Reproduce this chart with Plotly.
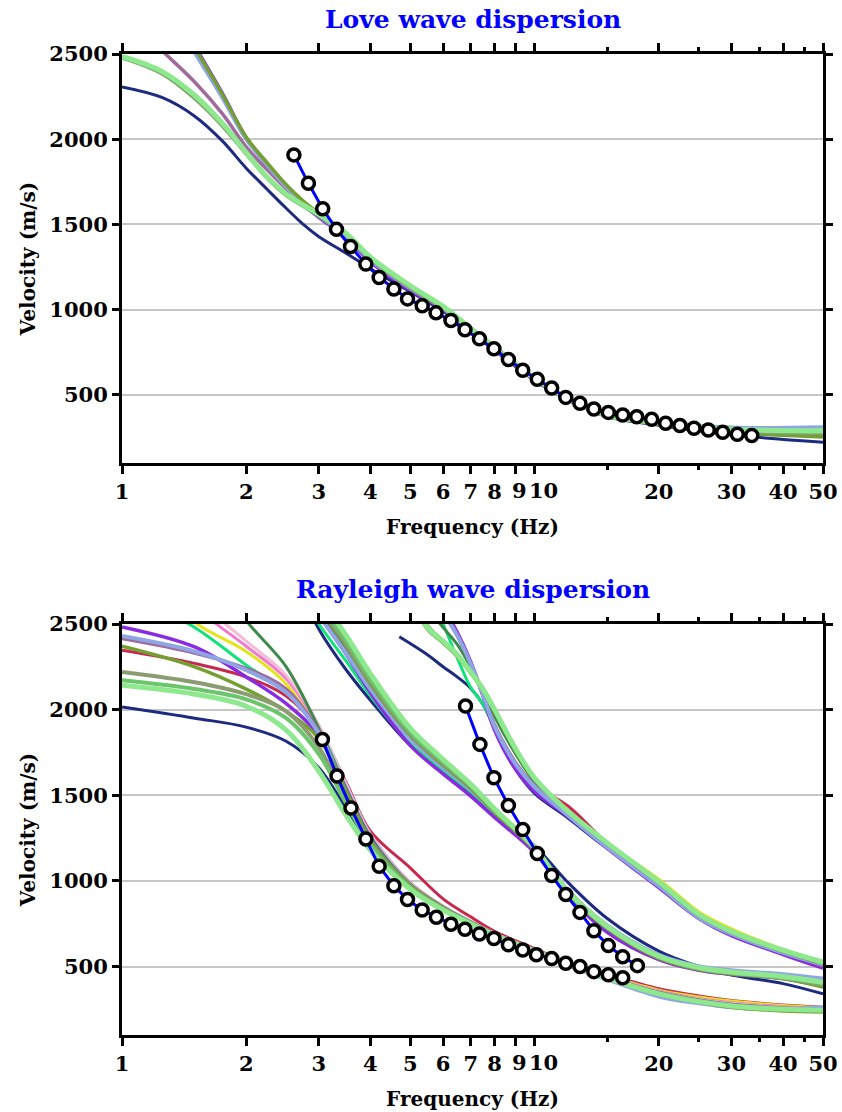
import math
import plotly.graph_objects as go
from plotly.subplots import make_subplots

# ---------------- observed dispersion picks ----------------
love_obs_freq = [2.61, 2.83, 3.065, 3.31, 3.58, 3.90, 4.20, 4.56, 4.92, 5.34, 5.77,
                 6.27, 6.78, 7.35, 7.97, 8.64, 9.36, 10.15, 11.0, 11.9, 12.88, 13.92,
                 15.09, 16.35, 17.68, 19.22, 20.78, 22.5, 24.34, 26.36, 28.57, 30.99, 33.6]
love_obs_vel = [1908, 1741, 1592, 1471, 1370, 1267, 1189, 1121, 1063, 1023, 981,
                936, 882, 829, 771, 707, 644, 592, 540, 485, 450, 417,
                397, 382, 372, 357, 333, 320, 304, 294, 281, 269, 261]

ray0_obs_freq = [3.06, 3.32, 3.59, 3.90, 4.20, 4.56, 4.92, 5.34, 5.78, 6.27, 6.78,
                 7.35, 7.97, 8.64, 9.36, 10.1, 11.0, 11.9, 12.88, 13.92, 15.09, 16.35]
ray0_obs_vel = [1825, 1612, 1425, 1245, 1085, 972, 891, 830, 787, 747, 718,
                690, 664, 627, 596, 569, 547, 519, 500, 470, 452, 434]

ray1_obs_freq = [6.80, 7.37, 7.97, 8.64, 9.36, 10.15, 11.0, 11.9, 12.88, 13.92,
                 15.09, 16.35, 17.75]
ray1_obs_vel = [2021, 1797, 1602, 1440, 1300, 1160, 1031, 920, 816, 709,
                622, 557, 505]

# ---------------- theoretical curves of the model ensemble ----------------
love_freq = [1, 1.25, 1.5, 1.75, 2, 2.25, 2.5, 2.75, 3, 3.5, 4, 5, 6, 7, 8, 10, 12, 15, 20, 30, 50]
love_curves = {
    "navy":       [2307, 2245, 2135, 1990, 1830, 1705, 1595, 1500, 1428, 1330, 1240, 1105, 990, 872, 760, 585, 472, 372, 322, 265, 222],
    "crimson":    [3250, 2860, 2525, 2255, 2005, 1855, 1728, 1632, 1560, 1440, 1300, 1130, 1010, 885, 775, 595, 480, 378, 333, 290, 268],
    "yellow":     [3300, 2880, 2540, 2265, 2010, 1858, 1730, 1633, 1558, 1436, 1295, 1125, 1008, 884, 776, 594, 478, 377, 332, 290, 270],
    "pink":       [3280, 2870, 2530, 2258, 2004, 1852, 1725, 1628, 1555, 1432, 1292, 1122, 1005, 882, 773, 592, 478, 377, 332, 291, 272],
    "lightpink":  [3270, 2865, 2528, 2256, 2003, 1851, 1724, 1627, 1554, 1431, 1291, 1121, 1004, 881, 772, 591, 477, 376, 331, 290, 271],
    "spring":     [3260, 2860, 2522, 2250, 2000, 1848, 1722, 1626, 1553, 1430, 1290, 1120, 1003, 880, 772, 592, 477, 376, 331, 289, 272],
    "forest":     [3320, 2890, 2545, 2268, 2012, 1860, 1732, 1635, 1562, 1440, 1298, 1127, 1009, 884, 774, 593, 477, 376, 330, 286, 265],
    "purple":     [3350, 2900, 2550, 2270, 2008, 1845, 1712, 1615, 1542, 1418, 1280, 1112, 1000, 876, 766, 586, 474, 374, 328, 282, 262],
    "mauve":      [2750, 2520, 2336, 2150, 1955, 1820, 1710, 1625, 1555, 1435, 1298, 1135, 1015, 888, 777, 596, 480, 378, 333, 290, 268],
    "lightblue":  [3200, 2830, 2510, 2245, 2000, 1848, 1720, 1625, 1552, 1430, 1292, 1125, 1008, 884, 775, 596, 482, 383, 340, 308, 310],
    "olive":      [3300, 2880, 2540, 2265, 2012, 1860, 1733, 1637, 1565, 1445, 1302, 1128, 1010, 884, 773, 591, 476, 374, 328, 280, 252],
    "greygreen":  [2478, 2385, 2240, 2080, 1915, 1772, 1672, 1608, 1552, 1438, 1300, 1132, 1012, 886, 776, 594, 478, 377, 332, 290, 276],
    "green2":     [2482, 2392, 2250, 2088, 1918, 1774, 1674, 1610, 1555, 1440, 1303, 1135, 1015, 888, 778, 596, 480, 378, 334, 295, 282],
    "lightgreen": [2486, 2398, 2258, 2094, 1922, 1777, 1678, 1614, 1560, 1445, 1308, 1140, 1020, 890, 780, 598, 482, 380, 336, 298, 290],
}

ray0_freq = [1, 1.5, 2, 2.5, 3, 3.5, 4, 5, 6, 7, 8, 10, 12, 15, 20, 25, 30, 40, 50]
ray0_curves = {
    "navy":       [2015, 1950, 1898, 1815, 1660, 1420, 1215, 955, 830, 750, 680, 590, 515, 440, 345, 300, 275, 255, 248],
    "crimson":    [2347, 2270, 2190, 2080, 1880, 1570, 1290, 1075, 895, 790, 705, 605, 525, 455, 370, 328, 302, 275, 262],
    "yellow":     [2900, 2510, 2340, 2150, 1870, 1550, 1270, 985, 850, 762, 692, 598, 518, 445, 362, 322, 298, 272, 258],
    "pink":       [3000, 2600, 2370, 2180, 1900, 1560, 1275, 990, 852, 764, 694, 598, 518, 442, 355, 312, 288, 265, 255],
    "lightpink":  [3050, 2650, 2400, 2200, 1910, 1560, 1270, 985, 850, 762, 692, 596, 516, 440, 352, 308, 284, 262, 254],
    "spring":     [2700, 2480, 2260, 2100, 1880, 1540, 1260, 980, 848, 760, 690, 596, 515, 438, 350, 305, 280, 258, 252],
    "forest":     [3400, 2950, 2520, 2250, 1890, 1530, 1250, 975, 845, 758, 688, 594, 514, 436, 345, 300, 274, 254, 248],
    "purple":     [2483, 2366, 2191, 2035, 1850, 1530, 1250, 975, 845, 758, 686, 590, 508, 428, 336, 290, 263, 248, 245],
    "mauve":      [2415, 2330, 2240, 2120, 1870, 1520, 1240, 970, 842, 756, 688, 594, 515, 438, 348, 303, 278, 258, 252],
    "lightblue":  [2430, 2340, 2230, 2100, 1860, 1510, 1230, 965, 838, 755, 686, 592, 510, 425, 325, 285, 262, 250, 262],
    "olive":      [2370, 2250, 2120, 1990, 1830, 1520, 1240, 975, 845, 758, 688, 594, 512, 430, 338, 292, 262, 240, 234],
    "greygreen":  [2220, 2160, 2090, 1990, 1780, 1470, 1220, 965, 840, 755, 686, 594, 514, 434, 343, 298, 272, 252, 246],
    "green2":     [2171, 2120, 2060, 1950, 1740, 1450, 1210, 960, 835, 752, 684, 592, 512, 432, 342, 297, 272, 252, 246],
    "lightgreen": [2142, 2090, 2020, 1880, 1640, 1380, 1180, 950, 830, 750, 682, 590, 512, 432, 340, 295, 270, 250, 245],
}

ray1_freq = [2.8, 3, 3.5, 4, 5, 6, 7, 8, 10, 12, 15, 20, 25, 30, 40, 50]
ray1_curves = {
    "navy":       [2620, 2470, 2230, 2055, 1790, 1640, 1515, 1390, 1205, 995, 780, 590, 500, 450, 400, 340],
    "crimson":    [2720, 2580, 2350, 2140, 1850, 1690, 1555, 1420, 1195, 950, 740, 565, 495, 468, 438, 398],
    "yellow":     [2700, 2570, 2340, 2130, 1840, 1675, 1545, 1410, 1190, 945, 735, 560, 492, 466, 440, 402],
    "pink":       [2710, 2575, 2345, 2135, 1842, 1672, 1540, 1405, 1192, 946, 736, 560, 492, 466, 438, 400],
    "lightpink":  [2705, 2570, 2342, 2132, 1840, 1670, 1538, 1403, 1190, 944, 734, 558, 490, 465, 437, 399],
    "spring":     [2620, 2500, 2280, 2080, 1800, 1645, 1520, 1392, 1186, 942, 732, 556, 490, 464, 436, 398],
    "forest":     [2730, 2590, 2355, 2140, 1845, 1672, 1538, 1402, 1185, 935, 728, 552, 486, 460, 432, 392],
    "purple":     [2700, 2560, 2320, 2100, 1790, 1625, 1495, 1370, 1165, 920, 700, 540, 478, 455, 430, 385],
    "mauve":      [2700, 2560, 2330, 2120, 1830, 1665, 1535, 1405, 1192, 946, 738, 562, 494, 468, 440, 402],
    "lightblue":  [2690, 2555, 2325, 2120, 1830, 1662, 1532, 1402, 1192, 948, 740, 568, 502, 478, 455, 430],
    "olive":      [2740, 2600, 2370, 2150, 1850, 1675, 1540, 1400, 1180, 930, 722, 548, 482, 456, 428, 380],
    "greygreen":  [2740, 2610, 2380, 2165, 1860, 1686, 1550, 1410, 1188, 938, 730, 555, 488, 462, 434, 392],
    "green2":     [2780, 2630, 2400, 2180, 1870, 1695, 1555, 1412, 1190, 940, 732, 556, 490, 464, 436, 400],
    "lightgreen": [2820, 2670, 2430, 2210, 1890, 1710, 1565, 1420, 1194, 942, 734, 560, 494, 468, 442, 408],
}

ray2_freq = [4.7, 5.5, 6, 6.5, 7, 7.5, 8, 9, 10, 12, 15, 20, 25, 30, 40, 50]
ray2_curves = {
    "navy":       [2425, 2320, 2250, 2190, 2125, 2030, 1890, 1650, 1510, 1370, 1190, 990, 800, 700, 580, 505],
    "crimson":    [3350, 2780, 2590, 2440, 2270, 2080, 1890, 1680, 1560, 1440, 1220, 985, 795, 698, 585, 508],
    "yellow":     [3300, 2760, 2580, 2430, 2260, 2080, 1900, 1690, 1560, 1400, 1215, 1010, 820, 720, 600, 530],
    "pink":       [3320, 2770, 2585, 2435, 2265, 2078, 1890, 1670, 1540, 1390, 1200, 978, 792, 695, 582, 505],
    "lightpink":  [3310, 2765, 2582, 2432, 2262, 2076, 1888, 1668, 1538, 1388, 1198, 976, 790, 694, 581, 504],
    "spring":     [3300, 2700, 2500, 2300, 2130, 2030, 1900, 1680, 1540, 1390, 1200, 980, 790, 690, 580, 500],
    "forest":     [3000, 2600, 2480, 2380, 2250, 2110, 1960, 1740, 1580, 1405, 1215, 988, 800, 700, 590, 515],
    "purple":     [3400, 2800, 2600, 2450, 2280, 2080, 1880, 1650, 1520, 1380, 1190, 960, 780, 680, 570, 490],
    "mauve":      [3200, 2740, 2570, 2430, 2270, 2090, 1910, 1690, 1555, 1395, 1205, 982, 795, 698, 584, 506],
    "lightblue":  [3250, 2750, 2575, 2432, 2268, 2085, 1900, 1680, 1548, 1385, 1195, 970, 785, 690, 580, 512],
    "olive":      [2780, 2470, 2390, 2310, 2215, 2115, 1990, 1760, 1595, 1408, 1218, 990, 800, 700, 588, 515],
    "greygreen":  [2800, 2490, 2400, 2320, 2220, 2118, 1995, 1765, 1598, 1410, 1220, 990, 800, 700, 590, 520],
    "green2":     [2790, 2480, 2395, 2315, 2218, 2120, 2000, 1768, 1600, 1410, 1220, 992, 802, 702, 592, 522],
    "lightgreen": [2800, 2480, 2400, 2320, 2220, 2120, 2000, 1770, 1600, 1410, 1222, 995, 805, 705, 595, 525],
}

freq_ticks = [1, 2, 3, 4, 5, 6, 7, 8, 9, 10, 20, 30, 40, 50]
freq_tick_text = ["1", "2", "3", "4", "5", "6", "7", "8", "9", "10", "20", "30", "40", "50"]
# labels that crowd each other on the log axis are drawn as offset annotations
crowded_labels = {9: 4, 10: 9}
freq_minor = [15, 25, 35, 45]
vel_ticks = [500, 1000, 1500, 2000, 2500]

# ---------------- styling ----------------
model_style = {
    "navy":       ("#1c2a80", 3.0),
    "crimson":    ("#c8284e", 3.0),
    "yellow":     ("#e4e41c", 3.0),
    "pink":       ("#f07ad0", 3.0),
    "lightpink":  ("#f4bcd8", 3.0),
    "spring":     ("#12e27a", 3.0),
    "forest":     ("#3f8a4a", 3.0),
    "purple":     ("#8a2be2", 3.5),
    "mauve":      ("#a06a9c", 3.5),
    "lightblue":  ("#8ea6e4", 4.0),
    "olive":      ("#74a032", 3.5),
    "greygreen":  ("#8a9c70", 4.0),
    "green2":     ("#6cc46c", 4.0),
    "lightgreen": ("#8ee88e", 5.0),
}

FONT = "DejaVu Serif"
TICK_FONT = dict(family=FONT, size=21, color="black", weight="bold")
W, H = 842, 1112
M_L, M_R, M_T, M_B = 122, 19, 54, 77
X_TICKLEN = 8

fig = make_subplots(rows=2, cols=1, vertical_spacing=0.0)


def add_curves(freq, curves, row):
    for name, vals in curves.items():
        color, width = model_style[name]
        fig.add_trace(go.Scatter(x=freq, y=vals, mode="lines",
                                 line=dict(color=color, width=width, shape="spline", smoothing=1.0),
                                 showlegend=False, hoverinfo="skip"), row=row, col=1)


def add_obs(freq, vel, row):
    fig.add_trace(go.Scatter(x=freq, y=vel, mode="lines+markers",
                             line=dict(color="#0000ff", width=3),
                             marker=dict(symbol="circle", size=12, color="white",
                                         line=dict(color="black", width=3.5)),
                             showlegend=False, cliponaxis=False), row=row, col=1)


add_curves(love_freq, love_curves, 1)
add_obs(love_obs_freq, love_obs_vel, 1)

add_curves(ray0_freq, ray0_curves, 2)
add_curves(ray1_freq, ray1_curves, 2)
add_curves(ray2_freq, ray2_curves, 2)
add_obs(ray0_obs_freq, ray0_obs_vel, 2)
add_obs(ray1_obs_freq, ray1_obs_vel, 2)

plot_h = H - M_T - M_B
top_dom = [(1035 - 463) / plot_h, 1.0]
bot_dom = [0.0, (1035 - 624) / plot_h]

axis_common = dict(showline=True, linecolor="black", linewidth=3, mirror="ticks",
                   ticks="outside", tickcolor="black", tickwidth=3, automargin=False,
                   tickfont=TICK_FONT)

shown_text = [("" if v in crowded_labels else t) for v, t in zip(freq_ticks, freq_tick_text)]

for r in (1, 2):
    fig.update_xaxes(type="log", range=[0, math.log10(50)], tickmode="array",
                     tickvals=freq_ticks, ticktext=shown_text, ticklen=X_TICKLEN, tickangle=0,
                     showgrid=False, zeroline=False,
                     minor=dict(tickmode="array", tickvals=freq_minor, ticks="outside",
                                ticklen=4, tickwidth=3, tickcolor="black", showgrid=False),
                     title=dict(text="Frequency (Hz)", standoff=17,
                                font=dict(family=FONT, size=20, color="black", weight="bold")),
                     **axis_common, row=r, col=1)
    fig.update_yaxes(range=[100, 2500], tickmode="array", tickvals=vel_ticks, ticklen=7,
                     showgrid=True, gridcolor="#c6c6c6", gridwidth=2, zeroline=False,
                     title=dict(text="Velocity (m/s)", standoff=9,
                                font=dict(family=FONT, size=20, color="black", weight="bold")),
                     **axis_common, row=r, col=1)

annotations = [
    dict(text="Love wave dispersion", xref="paper", yref="paper", x=0.5, y=1.0,
         yshift=18, xanchor="center", yanchor="bottom", showarrow=False,
         font=dict(family=FONT, size=25, color="#0000ff", weight="bold")),
    dict(text="Rayleigh wave dispersion", xref="paper", yref="paper", x=0.5, y=bot_dom[1],
         yshift=18, xanchor="center", yanchor="bottom", showarrow=False,
         font=dict(family=FONT, size=25, color="#0000ff", weight="bold")),
]
for xa, ya in (("x", "y domain"), ("x2", "y2 domain")):
    for v, t in zip(freq_ticks, freq_tick_text):
        if v in crowded_labels:
            annotations.append(dict(text=t, xref=xa, yref=ya, x=math.log10(v), y=0,
                                    xanchor="center", yanchor="top", showarrow=False,
                                    xshift=crowded_labels[v], yshift=-(X_TICKLEN + 5),
                                    font=TICK_FONT))

fig.update_layout(
    width=W, height=H,
    margin=dict(l=M_L, r=M_R, t=M_T, b=M_B),
    paper_bgcolor="white", plot_bgcolor="white",
    yaxis=dict(domain=top_dom), yaxis2=dict(domain=bot_dom),
    annotations=annotations,
)

fig.write_html("out.html")
